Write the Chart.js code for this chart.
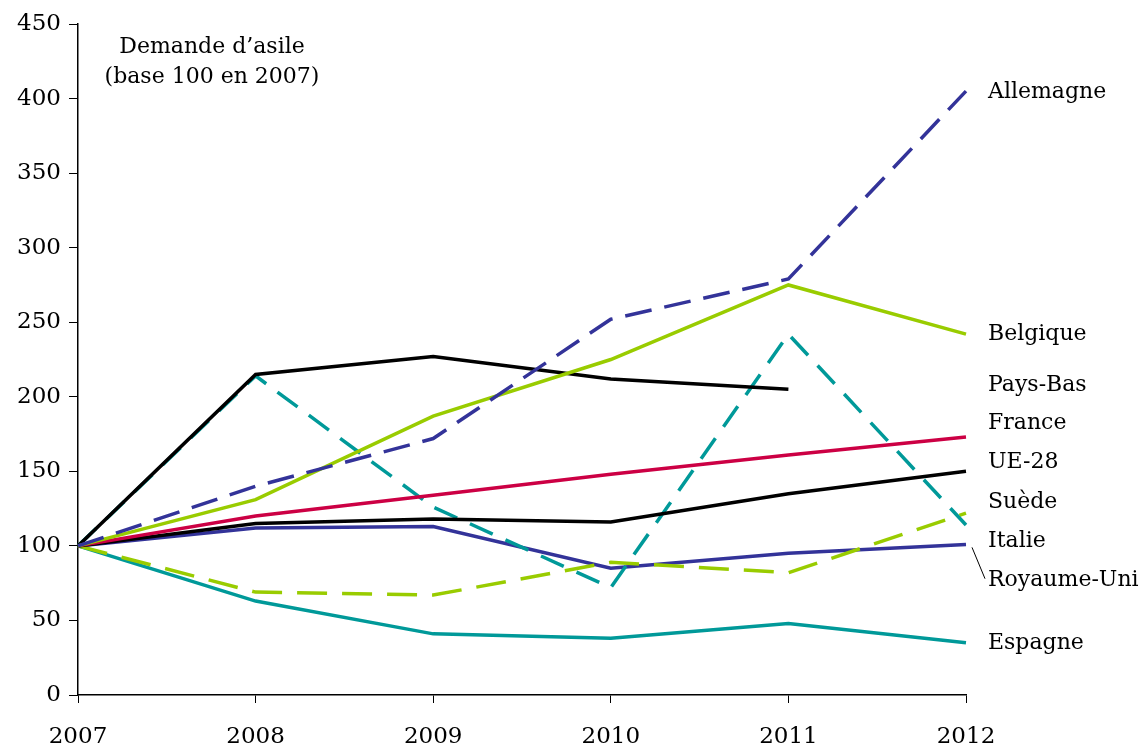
<!DOCTYPE html>
<html>
<head>
    <title>Demande d'asile</title>
    <script src="https://cdn.jsdelivr.net/npm/chart.js"></script>
    <style>
        body { margin: 0; background: #fff; }
        #wrap { width: 1145px; height: 747px; }
    </style>
</head>
<body>
    <div id="wrap"><canvas id="myChart"></canvas></div>
    <script>
        const years = ['2007', '2008', '2009', '2010', '2011', '2012'];

        const allemagne  = [100, 140, 172, 252, 279, 405];
        const belgique   = [100, 131, 187, 225, 275, 242];
        const paysBas    = [100, 215, 227, 212, 205, null];
        const france     = [100, 120, 134, 148, 161, 173];
        const ue28       = [100, 115, 118, 116, 135, 150];
        const suede      = [100, 214, 126, 72, 242, 114];
        const italie     = [100, 69, 67, 89, 82, 122];
        const royaumeUni = [100, 112, 113, 85, 95, 101];
        const espagne    = [100, 63, 41, 38, 48, 35];

        // where the names sit on the right, in index units
        const labelY = [404, 242, 208, 182, 156, 129, 103, 77, 35];

        const font = 'DejaVu Serif';

        const sideLabels = {
            id: 'sideLabels',
            afterDatasetsDraw(chart) {
                const c = chart.ctx;
                const area = chart.chartArea;
                const y = chart.scales.y;
                c.save();
                c.fillStyle = '#000';
                c.font = '22px "' + font + '"';
                c.textBaseline = 'middle';
                c.textAlign = 'left';
                chart.data.datasets.forEach((ds, i) => {
                    c.fillText(ds.label, area.right + 22, y.getPixelForValue(labelY[i]));
                });
                // leader line for Royaume-Uni
                c.strokeStyle = '#000';
                c.lineWidth = 1;
                c.beginPath();
                c.moveTo(area.right + 6, y.getPixelForValue(99));
                c.lineTo(area.right + 19, y.getPixelForValue(78));
                c.stroke();
                // note in the top left
                c.textAlign = 'center';
                c.fillText('Demande d\u2019asile', area.left + 134, area.top + 23);
                c.fillText('(base 100 en 2007)', area.left + 134, area.top + 53);
                c.restore();
            }
        };

        function line(label, data, color, dash) {
            return {
                label: label,
                data: data,
                borderColor: color,
                backgroundColor: color,
                borderWidth: 3.5,
                borderDash: dash || [],
                pointRadius: 0,
                tension: 0,
                spanGaps: false
            };
        }

        const ctx = document.getElementById('myChart').getContext('2d');
        const myChart = new Chart(ctx, {
            type: 'line',
            data: {
                labels: years,
                datasets: [
                    line('Allemagne', allemagne, '#333399', [27, 13]),
                    line('Belgique', belgique, '#99cc00'),
                    line('Pays-Bas', paysBas, '#000000'),
                    line('France', france, '#cc0044'),
                    line('UE-28', ue28, '#000000'),
                    line('Suède', suede, '#009999', [25, 14]),
                    line('Italie', italie, '#99cc00', [30, 15]),
                    line('Royaume-Uni', royaumeUni, '#333399'),
                    line('Espagne', espagne, '#009999')
                ]
            },
            options: {
                responsive: true,
                maintainAspectRatio: false,
                animation: false,
                layout: { padding: { left: 0, right: 179, top: 24, bottom: 0 } },
                plugins: {
                    legend: { display: false },
                    tooltip: { enabled: false }
                },
                scales: {
                    x: {
                        offset: false,
                        grid: { drawOnChartArea: false, drawTicks: true, tickLength: 8, color: '#000' },
                        border: { color: '#000', width: 1.5 },
                        ticks: { color: '#000', font: { family: font, size: 23 }, padding: 20, maxRotation: 0 },
                        afterFit(scale) { scale.height = 52; }
                    },
                    y: {
                        min: 0,
                        max: 450,
                        grid: { drawOnChartArea: false, drawTicks: true, tickLength: 9, color: '#000' },
                        border: { color: '#000', width: 1.5 },
                        ticks: { stepSize: 50, color: '#000', font: { family: font, size: 23 }, padding: 8 },
                        afterFit(scale) { scale.width = 78; }
                    }
                }
            },
            plugins: [sideLabels]
        });
    </script>
</body>
</html>
